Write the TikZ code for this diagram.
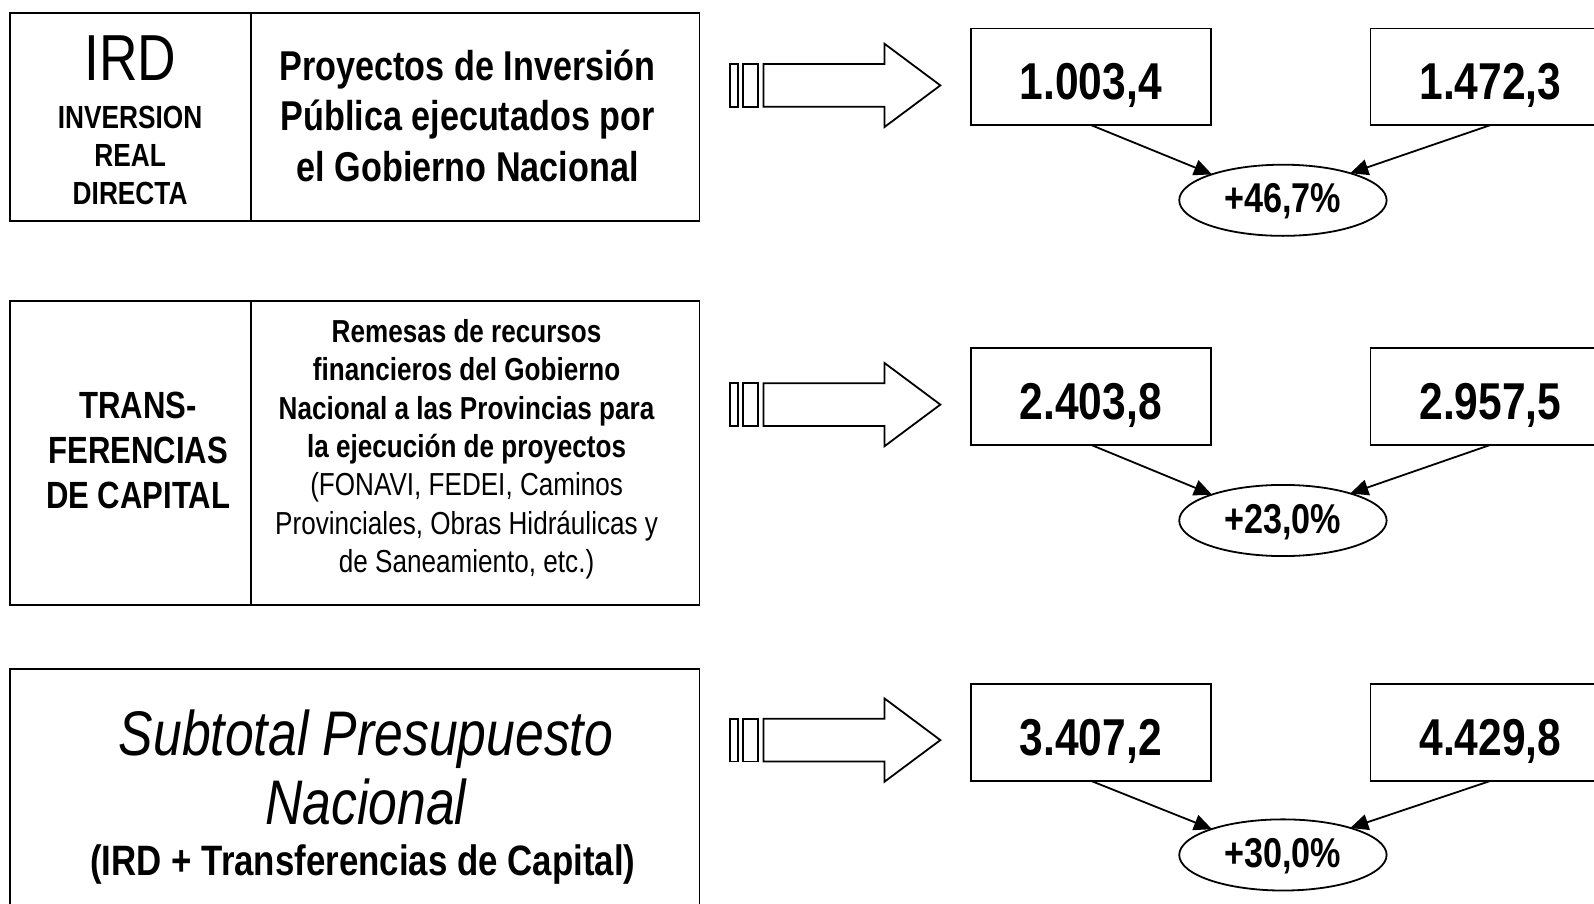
\documentclass[tikz,border=0pt]{standalone}
\usepackage{fontspec}
\setmainfont{Liberation Sans}[FakeStretch=0.82]
\usetikzlibrary{shapes.geometric,arrows.meta}

\begin{document}
\begin{tikzpicture}[
                x=1pt, y=-1pt, scale=1.0166, transform shape,
                every node/.style={inner sep=0pt, outer sep=0pt},
                frame/.style={draw, line width=1.8pt, anchor=north west},
                valbox/.style={minimum width=236pt, minimum height=95pt, text height=45pt, text depth=0pt, font=\fontsize{51}{60}\selectfont\bfseries},
                pct/.style={draw, ellipse, line width=1.8pt, minimum width=204pt, minimum height=70pt, text height=25pt, text depth=0pt, font=\fontsize{41}{48}\selectfont\bfseries},
                link/.style={draw, line width=1.8pt, -{Triangle[length=18pt,width=16pt]}},
                bigarrow/.style={draw, line width=1.8pt}
                ]
                \useasboundingbox (0,0) rectangle (1568,889.25);
                \clip (0,0) rectangle (1568,889.25);

                % left column
                \node[frame, minimum width=237pt, minimum height=204pt] (irdL) at (10,13) {};
                \node[frame, minimum width=441pt, minimum height=204pt] (irdR) at (247,13) {};
                \node[font=\fontsize{64}{70}\selectfont] (irdT) at (128,57) {IRD};
                \node[font=\fontsize{31.5}{37}\selectfont\bfseries, align=center] (irdS) at (128,153) {INVERSION\\REAL\\DIRECTA};
                \node[font=\fontsize{41}{50}\selectfont\bfseries, align=center] (irdD) at (460,114) {Proyectos de Inversión\\Pública ejecutados por\\el Gobierno Nacional};

                \node[frame, minimum width=237pt, minimum height=299pt] (tcL) at (10,296) {};
                \node[frame, minimum width=441pt, minimum height=299pt] (tcR) at (247,296) {};
                \node[font=\fontsize{37.3}{44}\selectfont\bfseries, align=center] (tcT) at (136,443) {TRANS-\\FERENCIAS\\DE CAPITAL};
                \node[font=\fontsize{31.3}{37.7}\selectfont, align=center] (tcD) at (459,442) {\textbf{Remesas de recursos}\\\textbf{financieros del Gobierno}\\\textbf{Nacional a las Provincias para}\\\textbf{la ejecución de proyectos}\\(FONAVI, FEDEI, Caminos\\Provinciales, Obras Hidráulicas y\\de Saneamiento, etc.)};

                \node[frame, minimum width=678pt, minimum height=280pt] (sub) at (10,658) {};
                \node[font=\fontsize{62}{68}\selectfont\itshape, align=center] (subT) at (360,755) {Subtotal Presupuesto\\Nacional};
                \node[font=\fontsize{41.8}{48}\selectfont\bfseries] (subD) at (357,850) {(IRD + Transferencias de Capital)};

                % block arrows
                \foreach \dy in {0,314,644} {
                    \begin{scope}[shift={(0,\dy)}]
                        \draw[bigarrow] (718,63) rectangle (726,105);
                        \draw[bigarrow] (731,63) rectangle (746,105);
                        \draw[bigarrow] (751,63) -- (870,63) -- (870,43) -- (925,84) -- (870,125) -- (870,105) -- (751,105) -- cycle;
                    \end{scope}
                }

                % values
                \node[valbox, draw, line width=1.8pt] (v1a) at (1073,75.5) {1.003,4};
                \node[valbox] (v1b) at (1466,75.5) {1.472,3};
                \draw[line width=1.8pt] (v1b.north west) rectangle ([xshift=40pt]v1b.south east);
                \node[pct] (p1) at (1262,197) {+46,7\%};
                \draw[link] (v1a.south) -- (p1.160);
                \draw[link] (v1b.south) -- (p1.22);

                \node[valbox, draw, line width=1.8pt] (v2a) at (1073,390) {2.403,8};
                \node[valbox] (v2b) at (1466,390) {2.957,5};
                \draw[line width=1.8pt] (v2b.north west) rectangle ([xshift=40pt]v2b.south east);
                \node[pct] (p2) at (1262,512) {+23,0\%};
                \draw[link] (v2a.south) -- (p2.160);
                \draw[link] (v2b.south) -- (p2.22);

                \node[valbox, draw, line width=1.8pt] (v3a) at (1073,720.5) {3.407,2};
                \node[valbox] (v3b) at (1466,720.5) {4.429,8};
                \draw[line width=1.8pt] (v3b.north west) rectangle ([xshift=40pt]v3b.south east);
                \node[pct] (p3) at (1262,841) {+30,0\%};
                \draw[link] (v3a.south) -- (p3.160);
                \draw[link] (v3b.south) -- (p3.22);
\end{tikzpicture}
\end{document}
